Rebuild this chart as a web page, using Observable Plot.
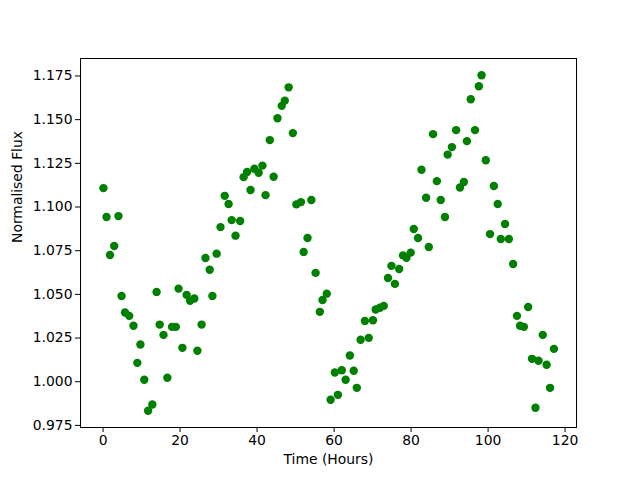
<!DOCTYPE html>
<html>
<head>
<meta charset="utf-8">
<script src="https://cdn.jsdelivr.net/npm/d3@7"></script>
<script src="https://cdn.jsdelivr.net/npm/@observablehq/plot@0.6"></script>
<style>
  html, body { margin: 0; padding: 0; background: white; }
  #chart { width: 640px; height: 480px; }
</style>
</head>
<body>
<div id="chart"></div>
<script>
const time = [
  0.1,0.9,1.8,2.9,4.0,4.8,5.7,6.8,7.9,8.9,
  9.7,10.7,11.7,12.8,13.9,14.7,15.7,16.7,17.9,18.9,
  19.6,20.6,21.7,22.6,23.7,24.5,25.6,26.6,27.7,28.4,
  29.5,30.5,31.6,32.6,33.4,34.4,35.6,36.5,37.4,38.3,
  39.3,40.4,41.4,42.2,43.3,44.3,45.3,46.4,47.2,48.2,
  49.3,50.2,51.4,52.1,53.1,54.1,55.2,56.3,57.0,58.1,
  59.1,60.2,61.0,62.0,63.0,64.1,65.1,65.9,66.9,68.0,
  69.0,70.1,70.8,71.9,72.9,74.0,74.9,75.8,76.9,77.9,
  78.8,79.9,80.7,81.8,82.7,83.9,84.6,85.7,86.7,87.7,
  88.8,89.5,90.6,91.7,92.7,93.7,94.5,95.5,96.6,97.6,
  98.3,99.4,100.5,101.5,102.5,103.3,104.4,105.4,106.5,107.5,
  108.3,109.3,110.4,111.4,112.3,113.1,114.2,115.2,116.1,117.1
];
const flux = [
  1.1108,1.0943,1.0725,1.0777,1.0948,1.0491,1.0396,1.0377,1.0320,1.0108,
  1.0213,1.0011,0.9834,0.9870,1.0514,1.0327,1.0268,1.0023,1.0314,1.0314,
  1.0533,1.0194,1.0497,1.0463,1.0476,1.0177,1.0327,1.0708,1.0641,1.0491,
  1.0733,1.0885,1.1064,1.1017,1.0925,1.0836,1.0920,1.1171,1.1200,1.1097,
  1.1219,1.1196,1.1237,1.1068,1.1383,1.1173,1.1508,1.1579,1.1609,1.1685,
  1.1423,1.1015,1.1028,1.0743,1.0823,1.1040,1.0623,1.0400,1.0468,1.0504,
  0.9897,1.0053,0.9925,1.0066,1.0011,1.0150,1.0063,0.9965,1.0240,1.0348,
  1.0251,1.0352,1.0413,1.0423,1.0434,1.0594,1.0663,1.0560,1.0645,1.0723,
  1.0710,1.0739,1.0874,1.0823,1.1213,1.1053,1.0771,1.1417,1.1148,1.1040,
  1.0943,1.1300,1.1343,1.1440,1.1112,1.1143,1.1377,1.1617,1.1440,1.1691,
  1.1754,1.1268,1.0845,1.1120,1.1017,1.0817,1.0903,1.0817,1.0674,1.0377,
  1.0320,1.0314,1.0428,1.0131,0.9851,1.0120,1.0268,1.0097,0.9965,1.0188
];
const xTicks = [0, 20, 40, 60, 80, 100, 120];
const yTicks = [0.975, 1.000, 1.025, 1.050, 1.075, 1.100, 1.125, 1.150, 1.175];
const xLabel = "Time (Hours)";
const yLabel = "Normalised Flux";

const data = time.map((t, i) => ({time: t, flux: flux[i]}));

const chart = Plot.plot({
  width: 640,
  height: 480,
  marginTop: 58,
  marginRight: 64,
  marginBottom: 53,
  marginLeft: 80,
  style: {fontFamily: "DejaVu Sans", fontSize: "13.9px", background: "white", color: "black"},
  x: {domain: [-5.86, 122.96]},
  y: {domain: [0.9738, 1.185]},
  marks: [
    Plot.dot(data, {x: "time", y: "flux", r: 4.2, fill: "#008000", stroke: "none"}),
    Plot.frame({stroke: "black", strokeWidth: 1}),
    Plot.axisX({ticks: xTicks, tickSize: 5, tickPadding: 3, tickFormat: d => String(d), label: null, fontSize: 13.9}),
    Plot.axisY({ticks: yTicks, tickSize: 5, tickPadding: 3, tickFormat: d3.format(".3f"), label: null, fontSize: 13.9}),
    Plot.text([xLabel], {frameAnchor: "bottom", dy: 36, text: d => d, fontSize: 13.9, fill: "black"}),
    Plot.text([yLabel], {frameAnchor: "left", dx: -63, rotate: -90, text: d => d, fontSize: 13.9, fill: "black"})
  ]
});
document.getElementById("chart").appendChild(chart);
</script>
</body>
</html>
